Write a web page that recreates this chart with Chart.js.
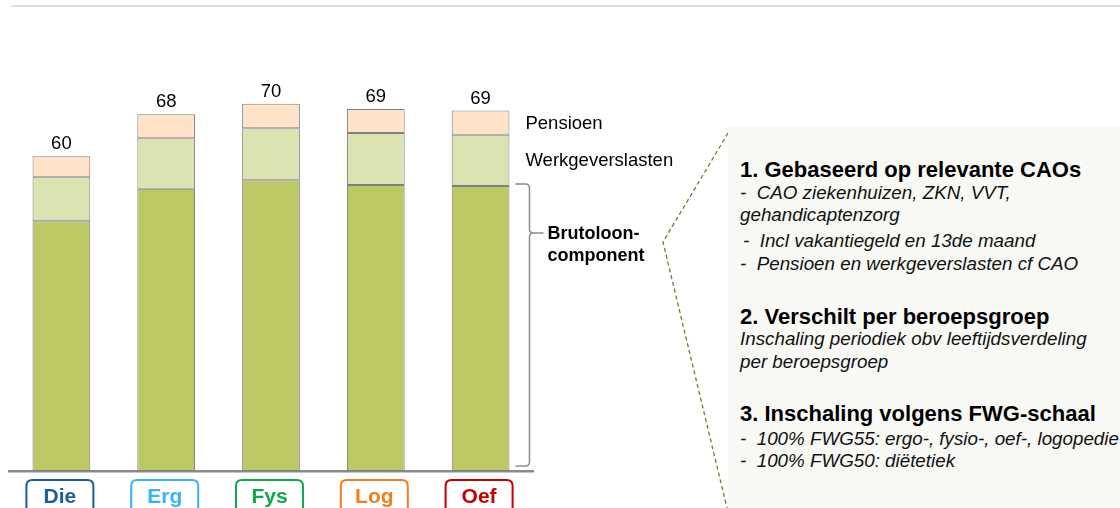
<!DOCTYPE html>
<html>
<head>
<meta charset="utf-8">
<script src="https://cdn.jsdelivr.net/npm/chart.js"></script>
<style>
  body { margin: 0; background: #fff; }
  #wrap { position: relative; width: 1120px; height: 508px; overflow: hidden; font-family: "Liberation Sans", Arial, sans-serif; }
  #topLine { position: absolute; left: 11px; right: 0; top: 5px; height: 2px; background: #dedede; }
  #barChart { position: absolute; left: 0; top: 0; }
  #panel { position: absolute; left: 728px; top: 127px; width: 392px; height: 381px; background: #f8f9f4; }
  #panel div { position: absolute; left: 12px; white-space: pre; color: #111; }
  #panel .head { font-weight: bold; font-size: 22px; line-height: 26px; color: #000; }
  #panel .body { font-style: italic; font-size: 18.8px; line-height: 22px; }
</style>
</head>
<body>
<div id="wrap">
  <div id="topLine"></div>
  <canvas id="barChart" width="1120" height="508"></canvas>
  <div id="panel">
    <div class="head" style="top:30px">1. Gebaseerd op relevante CAOs</div>
    <div class="body" style="top:55px">-  CAO ziekenhuizen, ZKN, VVT,</div>
    <div class="body" style="top:77px">gehandicaptenzorg</div>
    <div class="body" style="top:103px;left:15px">-  Incl vakantiegeld en 13de maand</div>
    <div class="body" style="top:126px">-  Pensioen en werkgeverslasten cf CAO</div>
    <div class="head" style="top:177px">2. Verschilt per beroepsgroep</div>
    <div class="body" style="top:201px">Inschaling periodiek obv leeftijdsverdeling</div>
    <div class="body" style="top:224px">per beroepsgroep</div>
    <div class="head" style="top:274px">3. Inschaling volgens FWG-schaal</div>
    <div class="body" style="top:301px">-  100% FWG55: ergo-, fysio-, oef-, logopedie</div>
    <div class="body" style="top:323px">-  100% FWG50: diëtetiek</div>
  </div>
</div>

<script>
// Data ------------------------------------------------------------------------
const categories = ['Die', 'Erg', 'Fys', 'Log', 'Oef'];
const brutoloon = [47.6, 53.8, 55.4, 54.5, 54.3];
const werkgeverslasten = [8.5, 9.6, 9.9, 9.9, 9.8];
const pensioen = [3.9, 4.6, 4.7, 4.6, 4.6];
const totals = [60, 68, 70, 69, 69];

const categoryColors = ['#1b5e9c', '#3db1f5', '#12a84e', '#f27d1f', '#c40000'];
const fontName = '"Liberation Sans", Arial, sans-serif';

// Annotations drawn on top of the bars ---------------------------------------
const annotationsPlugin = {
  id: 'annotations',
  afterDatasetsDraw(chart) {
    const ctx = chart.ctx;
    const area = chart.chartArea;
    const baseBars = chart.getDatasetMeta(0).data;
    const midBars = chart.getDatasetMeta(1).data;
    const topBars = chart.getDatasetMeta(2).data;
    const xScale = chart.scales.x;

    ctx.save();

    // Totals above each bar
    ctx.font = '18.5px ' + fontName;
    ctx.fillStyle = '#000';
    ctx.textAlign = 'center';
    ctx.textBaseline = 'alphabetic';
    for (let i = 0; i < topBars.length; i++) {
      ctx.fillText(totals[i], topBars[i].x, topBars[i].y - 7);
    }

    // Category boxes under the axis
    for (let i = 0; i < categories.length; i++) {
      const x = xScale.getPixelForValue(i) - 1.5;
      ctx.strokeStyle = categoryColors[i];
      ctx.lineWidth = 2;
      roundedRect(ctx, x - 33.5, area.bottom + 9, 67, 44, 6);
      ctx.stroke();
      ctx.font = 'bold 21px ' + fontName;
      ctx.fillStyle = categoryColors[i];
      ctx.fillText(categories[i], x, area.bottom + 32);
    }

    // Segment labels next to the last bar
    const last = topBars.length - 1;
    const right = topBars[last].x + topBars[last].width / 2;
    ctx.font = '18.5px ' + fontName;
    ctx.fillStyle = '#000';
    ctx.textAlign = 'left';
    ctx.textBaseline = 'middle';
    ctx.fillText('Pensioen', right + 16, (topBars[last].y + topBars[last].base) / 2 + 1);
    ctx.fillText('Werkgeverslasten', right + 16, (midBars[last].y + midBars[last].base) / 2 + 1);

    // Brace for the brutoloon part
    const x0 = right + 6;
    const xv = x0 + 14;
    const yTop = baseBars[last].y - 2;
    const yBot = baseBars[last].base - 5;
    const yTip = yTop + 49;
    ctx.strokeStyle = '#8c8c8c';
    ctx.lineWidth = 1.5;
    ctx.beginPath();
    ctx.moveTo(x0, yTop);
    ctx.lineTo(xv - 4, yTop);
    ctx.quadraticCurveTo(xv, yTop, xv, yTop + 4);
    ctx.lineTo(xv, yTip - 4);
    ctx.quadraticCurveTo(xv, yTip, xv + 4, yTip);
    ctx.lineTo(xv + 14, yTip);
    ctx.moveTo(xv + 4, yTip);
    ctx.quadraticCurveTo(xv, yTip, xv, yTip + 4);
    ctx.lineTo(xv, yBot - 4);
    ctx.quadraticCurveTo(xv, yBot, xv - 4, yBot);
    ctx.lineTo(x0, yBot);
    ctx.stroke();

    ctx.font = 'bold 18px ' + fontName;
    ctx.textBaseline = 'alphabetic';
    ctx.fillText('Brutoloon-', xv + 18, yTip + 6);
    ctx.fillText('component', xv + 18, yTip + 28);

    // Dashed connector to the text panel
    ctx.strokeStyle = '#6e7b35';
    ctx.lineWidth = 1.3;
    ctx.setLineDash([4, 3]);
    ctx.beginPath();
    ctx.moveTo(728, 133);
    ctx.lineTo(663, 242);
    ctx.lineTo(727, 508);
    ctx.stroke();

    ctx.restore();
  }
};

// Chart -----------------------------------------------------------------------
renderStackedChart();

//Functions start---------------------------------------------------------------
function renderStackedChart() {
  const ctx = document.getElementById('barChart');

  new Chart(ctx, {
    type: 'bar',
    plugins: [annotationsPlugin],
    options: {
      responsive: false,
      animation: false,
      layout: {
        padding: { left: 9, right: 587, top: 4, bottom: 37 }
      },
      plugins: {
        legend: { display: false },
        tooltip: { enabled: false }
      },
      scales: {
        x: {
          stacked: true,
          grid: { display: false, drawTicks: false },
          ticks: { display: false },
          border: { display: true, color: '#8a8a8a', width: 2.5 }
        },
        y: {
          stacked: true,
          display: false,
          min: 0,
          max: 89
        }
      }
    },
    data: {
      labels: categories,
      datasets: [{
        label: 'Brutoloon-component',
        data: brutoloon,
        backgroundColor: '#bbc863',
        borderColor: '#7f7f7f',
        borderWidth: 1,
        borderSkipped: false,
        barPercentage: 0.551,
        categoryPercentage: 1
      }, {
        label: 'Werkgeverslasten',
        data: werkgeverslasten,
        backgroundColor: '#dce3b2',
        borderColor: '#7f7f7f',
        borderWidth: 1,
        borderSkipped: false,
        barPercentage: 0.551,
        categoryPercentage: 1
      }, {
        label: 'Pensioen',
        data: pensioen,
        backgroundColor: '#ffe2c8',
        borderColor: '#7f7f7f',
        borderWidth: 1,
        borderSkipped: false,
        barPercentage: 0.551,
        categoryPercentage: 1
      }]
    }
  });
}

function roundedRect(ctx, x, y, w, h, r) {
  ctx.beginPath();
  ctx.moveTo(x + r, y);
  ctx.lineTo(x + w - r, y);
  ctx.quadraticCurveTo(x + w, y, x + w, y + r);
  ctx.lineTo(x + w, y + h - r);
  ctx.quadraticCurveTo(x + w, y + h, x + w - r, y + h);
  ctx.lineTo(x + r, y + h);
  ctx.quadraticCurveTo(x, y + h, x, y + h - r);
  ctx.lineTo(x, y + r);
  ctx.quadraticCurveTo(x, y, x + r, y);
  ctx.closePath();
}
//Functions end-----------------------------------------------------------------
</script>
</body>
</html>
